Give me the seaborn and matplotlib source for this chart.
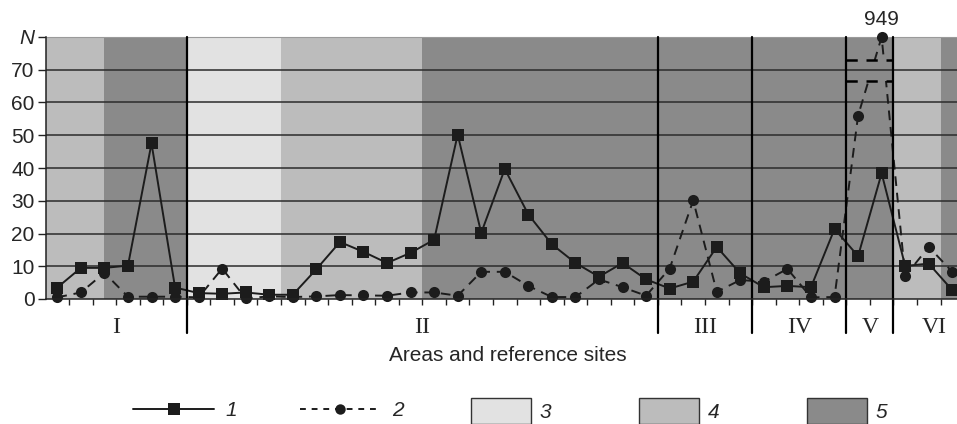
import numpy as np
import pandas as pd
import matplotlib
matplotlib.use("Agg")
import matplotlib.pyplot as plt
import matplotlib.transforms as mtransforms
from matplotlib.lines import Line2D
from matplotlib.patches import Patch
import seaborn as sns

# values (one per reference site, left to right)
SERIES_1 = [3.5, 9.5, 9.5, 10.2, 47.5, 3.5, 1.8, 1.6, 2.0, 1.3, 1.3, 9.1, 17.4,
            14.4, 11.0, 14.1, 18.1, 50.2, 20.2, 39.7, 25.8, 16.7, 11.0, 6.8, 11.0,
            6.0, 3.2, 5.3, 15.9, 7.8, 3.6, 4.0, 3.6, 21.4, 13.1, 38.4, 10.1, 10.8, 2.7]
SERIES_2 = [0.5, 2.0, 8.0, 0.7, 0.7, 0.7, 0.5, 9.3, 0.2, 0.8, 0.6, 0.8, 1.2,
            1.1, 1.0, 2.0, 2.0, 1.0, 8.3, 8.3, 4.0, 0.6, 0.6, 6.0, 3.6,
            1.0, 9.3, 30.1, 2.2, 5.8, 5.3, 9.2, 0.5, 0.6, 56.0, 949, 7.0, 15.9, 8.3]

# areas (I..VI) and their site boundaries
AREA_NAMES = ["I", "II", "III", "IV", "V", "VI"]
AREA_EDGES = [-0.5, 5.5, 25.5, 29.5, 33.5, 35.5, 39.0]

# background shading bands: edges and legend class (3, 4, 5)
BAND_EDGES = [-0.5, 2.0, 5.5, 9.5, 15.5, 35.5, 37.5, 39.0]
BAND_CLASS = [4, 5, 3, 4, 5, 4, 5]
BAND_COLORS = {3: "#e2e2e2", 4: "#bcbcbc", 5: "#8a8a8a"}

Y_TICKS = [0, 10, 20, 30, 40, 50, 60, 70, 80]
Y_TICK_LABELS = ["0", "10", "20", "30", "40", "50", "60", "70", "N"]
Y_MAX = 80
BREAK_LOW, BREAK_HIGH = 66.6, 73.0

W, H = 957, 424
sns.set_style("white")
plt.rcParams["font.family"] = ["Liberation Sans", "DejaVu Sans"]

fig = plt.figure(figsize=(W / 100, H / 100), dpi=100)
ax = fig.add_axes([46 / W, 1 - 299 / H, (W - 46) / W, 262 / H])

sites = np.arange(len(SERIES_1))
df = pd.DataFrame({
    "site": sites,
    "s1": SERIES_1,
    "s2": np.minimum(SERIES_2, Y_MAX),
})

# shaded bands
for x0, x1, c in zip(BAND_EDGES[:-1], BAND_EDGES[1:], BAND_CLASS):
    ax.axvspan(x0, x1, color=BAND_COLORS[c], lw=0, zorder=0)

# horizontal grid
for y in Y_TICKS[1:-1]:
    ax.axhline(y, color="#2b2b2b", lw=1.1, zorder=1)

ink = "#1c1c1c"
sns.lineplot(data=df, x="site", y="s1", ax=ax, color=ink, lw=1.4,
             marker="s", markersize=9.2, markeredgewidth=0, zorder=4)
sns.lineplot(data=df, x="site", y="s2", ax=ax, color=ink, lw=1.4,
             marker="o", markersize=8.0, markeredgewidth=0, zorder=3,
             clip_on=False)
ax.lines[-1].set_dashes((5, 3.5))

# axis break in area V for the 949 value
v0, v1 = AREA_EDGES[4], AREA_EDGES[5]
ax.fill_between([v0, v1], BREAK_LOW, BREAK_HIGH, color=BAND_COLORS[5],
                lw=0, zorder=5)
ax.hlines(70, v0, v1, color="#2b2b2b", lw=1.1, zorder=5.5)
ax.hlines([BREAK_LOW, BREAK_HIGH], v0, v1, color="black", lw=1.8,
          linestyles=(0, (4.5, 3.5)), zorder=6)
peak = int(np.argmax(SERIES_2))
ax.annotate(str(SERIES_2[peak]), (peak, Y_MAX), xytext=(0, 12.5),
            textcoords="offset points", ha="center", va="center", fontsize=15)

# area separators and names
trans = mtransforms.blended_transform_factory(ax.transData, ax.transAxes)
for x in AREA_EDGES[1:-1]:
    ax.plot([x, x], [1, -0.13], transform=trans, color="black", lw=1.6,
            clip_on=False, zorder=7)
for name, a, b in zip(AREA_NAMES, AREA_EDGES[:-1], AREA_EDGES[1:]):
    ax.text((a + b) / 2, -0.108, name, transform=trans, ha="center", va="center",
            fontsize=17, family=["Liberation Serif", "DejaVu Serif"])

ax.set_xlim(-0.48, 38.2)
ax.set_ylim(0, Y_MAX)
ax.set_xticks(np.arange(0.5, 38, 1.0))
ax.set_xticklabels([])
ax.set_yticks(Y_TICKS)
ax.set_yticklabels(Y_TICK_LABELS, fontsize=15)
ax.get_yticklabels()[-1].set_style("italic")
ax.tick_params(axis="x", direction="out", length=4.3, width=1, color="#222222",
               bottom=True)
ax.tick_params(axis="y", direction="out", length=5.8, width=1, color="#222222",
               left=True, pad=2.5)
ax.set_xlabel("")
ax.set_ylabel("")
for side in ["left", "bottom"]:
    ax.spines[side].set_color("#222222")
    ax.spines[side].set_linewidth(1.1)
    ax.spines[side].set_zorder(8)
ax.spines["top"].set_color("#9a9a9a")
ax.spines["top"].set_linewidth(0.8)
ax.spines["right"].set_visible(False)

fig.text(508 / W, 1 - 355.5 / H, "Areas and reference sites", ha="center",
         va="center", fontsize=15)

# legends
line_handles = [
    Line2D([], [], color=ink, lw=1.4, marker="s", markersize=9.2, markeredgewidth=0),
    Line2D([], [], color=ink, lw=1.4, marker="o", markersize=7.5, markeredgewidth=0,
           dashes=(3, 3)),
]
fig.legend(line_handles, ["1", "2"], loc="center left",
           bbox_to_anchor=(133 / W, 1 - 411 / H), ncol=2, frameon=False,
           prop={"style": "italic", "size": 15}, handlelength=3.9,
           handletextpad=0.55, columnspacing=3.0, borderpad=0,
           borderaxespad=0)
patch_handles = [Patch(facecolor=BAND_COLORS[c], edgecolor="#333333", lw=1)
                 for c in (3, 4, 5)]
fig.legend(patch_handles, ["3", "4", "5"], loc="center left",
           bbox_to_anchor=(471 / W, 1 - 411 / H), ncol=3, frameon=False,
           prop={"style": "italic", "size": 15}, handlelength=2.9,
           handleheight=1.55, handletextpad=0.4, columnspacing=4.2,
           borderpad=0, borderaxespad=0)

fig.savefig("out.png", dpi=100)
